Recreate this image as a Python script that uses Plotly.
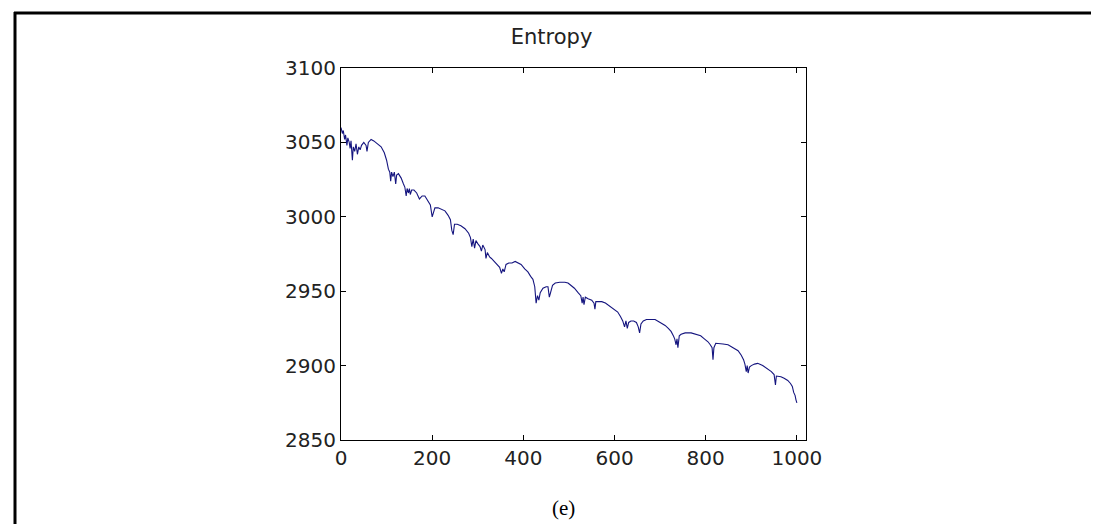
import plotly.graph_objects as go

# entropy curve (iteration, entropy)
iteration = [0, 3, 5, 8, 10, 13, 15, 18, 20, 22, 25, 27, 30, 33, 36, 39, 42, 45, 50, 55,
             57, 60, 66, 72, 80, 88, 95, 100, 104, 107, 109, 111, 114, 117, 120, 122, 126, 132, 137, 140,
             143, 145, 148, 150, 152, 155, 160, 166, 172, 178, 184, 190, 196, 200, 203, 206, 213, 220, 228, 235,
             240, 243, 246, 249, 255, 263, 272, 280, 284, 287, 290, 293, 296, 300, 305, 308, 311, 316, 318, 321,
             326, 330, 336, 342, 348, 352, 355, 358, 362, 368, 375, 382, 388, 395, 403, 410, 416, 421, 425, 428,
             431, 434, 437, 443, 450, 454, 457, 460, 464, 470, 480, 491, 498, 504, 512, 520, 526, 529, 531, 533,
             536, 542, 550, 555, 557, 559, 566, 572, 580, 590, 600, 607, 613, 618, 622, 625, 628, 631, 636, 642,
             648, 652, 655, 658, 663, 670, 680, 689, 700, 711, 718, 724, 729, 732, 735, 737, 739, 742, 746, 755,
             768, 780, 789, 797, 805, 810, 814, 816, 818, 822, 827, 838, 849, 860, 871, 878, 883, 886, 889, 891,
             893, 896, 900, 907, 914, 925, 936, 944, 950, 953, 955, 960, 965, 972, 980, 986, 990, 993, 996, 998,
             1000]
entropy = [3060, 3056, 3058, 3052, 3055, 3048, 3053, 3050, 3046, 3051, 3038, 3047, 3044, 3049, 3042, 3047, 3045, 3048, 3050, 3048,
           3044, 3050, 3052, 3051, 3049, 3047, 3043, 3038, 3032, 3030, 3024, 3030, 3027, 3030, 3022, 3028, 3029, 3026, 3022, 3020,
           3014, 3019, 3016, 3019, 3015, 3018, 3018, 3016, 3012, 3014, 3014, 3011, 3008, 3000, 3003, 3006, 3006, 3005, 3004, 3001,
           2998, 2991, 2988, 2995, 2995, 2994, 2992, 2989, 2986, 2980, 2985, 2979, 2984, 2982, 2980, 2977, 2981, 2978, 2972, 2976,
           2973, 2972, 2970, 2968, 2966, 2962, 2965, 2963, 2968, 2969, 2969, 2970, 2969, 2968, 2965, 2963, 2960, 2958, 2953, 2942,
           2947, 2944, 2949, 2952, 2953, 2953, 2946, 2950, 2954, 2955.5, 2956, 2956, 2955.5, 2954, 2952, 2949, 2947, 2942, 2946, 2941,
           2946, 2945, 2944, 2942, 2938, 2943, 2943, 2943, 2942, 2940, 2938, 2936, 2933, 2930, 2926, 2930, 2925, 2929, 2930, 2930,
           2929, 2926, 2922, 2928, 2930, 2931, 2931, 2931, 2929, 2927, 2925, 2923, 2920, 2918, 2914, 2918, 2912, 2920, 2921, 2922,
           2922, 2921, 2920, 2918, 2916, 2914, 2912, 2904, 2912, 2915, 2915, 2914.5, 2914, 2912, 2910, 2907, 2904, 2901, 2896, 2900,
           2895, 2899, 2900, 2901, 2901.5, 2900, 2898, 2896, 2894, 2887, 2893, 2893, 2892.5, 2891.5, 2890, 2888, 2886, 2882, 2880, 2877,
           2875]

x_ticks = [0, 200, 400, 600, 800, 1000]
y_ticks = [2850, 2900, 2950, 3000, 3050, 3100]

W, H = 1099, 524
L, R, T, B = 333, 301, 60, 92
pw, ph = W - L - R, H - T - B


def px(x):
    return (x - L) / pw


def py(y):
    return (H - B - y) / ph


fig = go.Figure(go.Scatter(x=iteration, y=entropy, mode="lines",
                           line=dict(color="#15157f", width=1.1), hoverinfo="skip"))

axis_common = dict(showgrid=False, zeroline=False, showline=True, linecolor="black", linewidth=1,
                   mirror="allticks", ticks="inside", ticklen=5, tickcolor="black",
                   tickfont=dict(family="DejaVu Sans", size=20, color="#222"))

fig.update_xaxes(range=[0, 1020], tickvals=x_ticks, **axis_common)
fig.update_yaxes(range=[2850, 3100], tickvals=y_ticks, **axis_common)

fig.update_layout(
    width=W, height=H,
    margin=dict(l=L, r=R, t=T, b=B),
    paper_bgcolor="white", plot_bgcolor="white",
    showlegend=False,
    title=dict(text="Entropy", x=px(563), xanchor="center", y=1 - 29 / H, yanchor="middle",
               font=dict(family="DejaVu Sans", size=21, color="#222")),
    annotations=[dict(text="(e)", xref="paper", yref="paper", x=px(555), y=py(500),
                      xanchor="center", yanchor="middle", showarrow=False,
                      font=dict(family="Liberation Serif", size=21, color="black"))],
    shapes=[
        dict(type="line", xref="paper", yref="paper", x0=px(6), x1=px(W), y0=py(5), y1=py(5),
             line=dict(color="black", width=3)),
        dict(type="line", xref="paper", yref="paper", x0=px(7), x1=px(7), y0=py(4), y1=py(H),
             line=dict(color="black", width=3)),
    ],
)

fig.write_html("out.html")
